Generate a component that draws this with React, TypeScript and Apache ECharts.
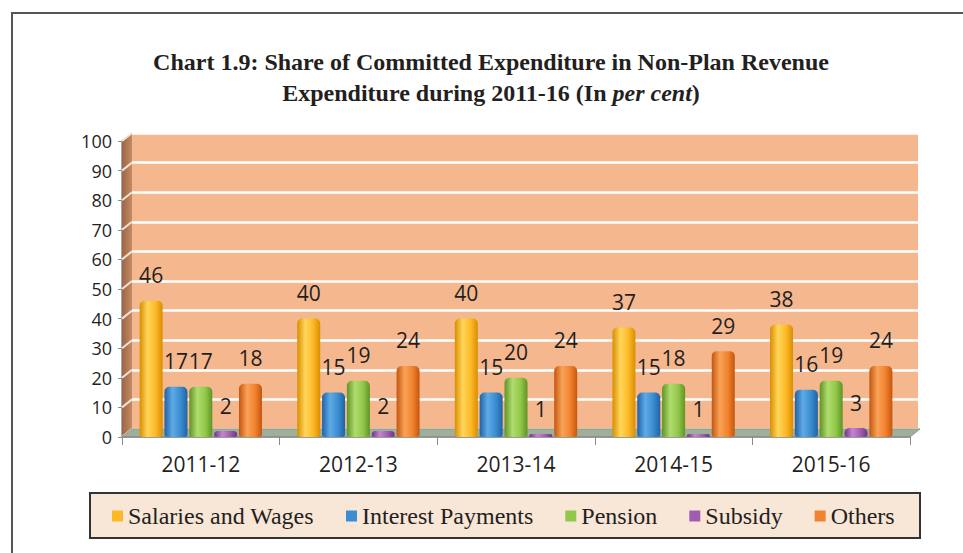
import React, { useEffect, useRef } from "react";
import * as echarts from "echarts";

const categories = ["2011-12", "2012-13", "2013-14", "2014-15", "2015-16"];
const seriesNames = ["Salaries and Wages", "Interest Payments", "Pension", "Subsidy", "Others"];
const salaries = [46, 40, 40, 37, 38];
const interest = [17, 15, 15, 15, 16];
const pension = [17, 19, 20, 18, 19];
const subsidy = [2, 2, 1, 1, 3];
const others = [18, 24, 24, 29, 24];
const yTicks = [0, 10, 20, 30, 40, 50, 60, 70, 80, 90, 100];

const palette = [
  { solid: "#FDB827", dark: "#D98E00", light: "#FFD65A" },
  { solid: "#3A8DD0", dark: "#1F63A6", light: "#5FAAE6" },
  { solid: "#92C84A", dark: "#5F9424", light: "#B0DC6E" },
  { solid: "#A05CB0", dark: "#6E3480", light: "#C486D2" },
  { solid: "#F2822E", dark: "#C4560E", light: "#F9A258" },
];

const W = 963;
const H = 553;
const G = { left: 122, right: 53, top: 141, bottom: 116 };
const D = { dx: 10, dy: -8 };

export default function App() {
  const ref = useRef<HTMLDivElement>(null);
  useEffect(() => {
    if (!ref.current) return;
    const chart = echarts.init(ref.current, null, { renderer: "svg" });
    const allData = [salaries, interest, pension, subsidy, others];
    const grad = (c: any) =>
      new echarts.graphic.LinearGradient(0, 0, 1, 0, [
        { offset: 0, color: c.dark },
        { offset: 0.35, color: c.light },
        { offset: 0.7, color: c.solid },
        { offset: 1, color: c.dark },
      ]);
    const series: any[] = allData.map((d, i) => ({
      name: seriesNames[i],
      type: "bar",
      xAxisIndex: 0,
      yAxisIndex: 0,
      data: d,
      barWidth: 23,
      barGap: "8%",
      z: 5,
      itemStyle: { color: grad(palette[i]), borderRadius: [5, 5, 3, 3] },
      label: {
        show: true,
        position: "top",
        distance: 15,
        fontSize: 21,
        fontFamily: "Open Sans",
        color: "#1f1f1f",
      },
    }));
    const serif = "'Liberation Serif', 'Times New Roman', serif";
    const option: any = {
      animation: false,
      backgroundColor: "#ffffff",
      grid: [
        { left: G.left, right: G.right, top: G.top, bottom: G.bottom, containLabel: false },
        {
          left: G.left + D.dx,
          right: G.right - D.dx + 2,
          top: G.top + D.dy,
          bottom: G.bottom - D.dy,
          show: true,
          backgroundColor: "#F5B78D",
          borderWidth: 0,
          z: 0,
        },
      ],
      xAxis: [
        {
          type: "category",
          gridIndex: 0,
          data: categories,
          axisLine: { show: true, lineStyle: { color: "#8a8a8a", width: 1.5 } },
          axisTick: { show: true, length: 8, lineStyle: { color: "#8a8a8a" } },
          axisLabel: { fontSize: 21, fontFamily: "Open Sans", color: "#1f1f1f", margin: 16 },
          z: 3,
        },
        { type: "category", gridIndex: 1, data: categories, show: false },
      ],
      yAxis: [
        {
          type: "value",
          gridIndex: 0,
          min: 0,
          max: 100,
          interval: 10,
          axisLine: { show: true, lineStyle: { color: "#8a8a8a", width: 1.5 } },
          axisTick: { show: true, length: 4, lineStyle: { color: "#8a8a8a" } },
          axisLabel: { fontSize: 18, fontFamily: "Open Sans", color: "#1f1f1f", margin: 10 },
          splitLine: { show: false },
        },
        {
          type: "value",
          gridIndex: 1,
          min: 0,
          max: 100,
          interval: 10,
          axisLine: { show: false },
          axisTick: { show: false },
          axisLabel: { show: false },
          splitLine: { show: true, lineStyle: { color: "#ffffff", width: 2.5 } },
        },
      ],
      legend: {
        data: seriesNames.map((n, i) => ({ name: n, itemStyle: { color: palette[i].solid } })),
        left: 107,
        top: 499,
        icon: "rect",
        itemWidth: 11,
        itemHeight: 11,
        itemGap: 32,
        textStyle: { fontFamily: serif, fontSize: 24, color: "#231F20" },
        z: 10,
      },
      series,
    };
    chart.setOption(option);

    const yf = (v: number) => chart.convertToPixel({ yAxisIndex: 0 }, v) as number;
    const yb = (v: number) => chart.convertToPixel({ yAxisIndex: 1 }, v) as number;
    const xL = G.left;
    const xR = W - G.right;
    const bxL = G.left + D.dx;
    const bxR = W - G.right + D.dx;
    const graphics: any[] = [];
    graphics.push({
      type: "rect",
      z: -10,
      shape: { x: 12, y: 13, width: 1000, height: 700 },
      style: { fill: "#ffffff", stroke: "#555555", lineWidth: 2 },
      silent: true,
    });
    graphics.push({
      type: "polygon",
      z: 1,
      shape: { points: [[xL, yf(100)], [bxL, yb(100)], [bxL, yb(0)], [xL, yf(0)]] },
      style: {
        fill: new echarts.graphic.LinearGradient(0, 0, 1, 0, [
          { offset: 0, color: "#9C6746" },
          { offset: 1, color: "#C38A64" },
        ]),
      },
      silent: true,
    });
    yTicks.forEach((v) => {
      graphics.push({
        type: "line",
        z: 2,
        shape: { x1: xL, y1: yf(v), x2: bxL, y2: yb(v) },
        style: { stroke: "#f3e2d4", lineWidth: 2 },
        silent: true,
      });
    });
    graphics.push({
      type: "polygon",
      z: 2,
      shape: { points: [[xL, yf(0)], [bxL, yb(0)], [bxR, yb(0)], [xR, yf(0)]] },
      style: { fill: "#9FAF99", stroke: "#8d9c88", lineWidth: 1 },
      silent: true,
    });
    graphics.push({
      type: "text",
      z: 10,
      x: 491,
      y: 46,
      style: {
        text: "Chart 1.9: Share of Committed Expenditure in Non-Plan Revenue\nExpenditure during 2011-16 (In {i|per cent})",
        align: "center",
        fontFamily: serif,
        fontWeight: "bold",
        fontSize: 24,
        lineHeight: 31,
        fill: "#231F20",
        rich: {
          i: { fontFamily: serif, fontWeight: "bold", fontStyle: "italic", fontSize: 24, fill: "#231F20" },
        },
      },
    });
    graphics.push({
      type: "rect",
      z: -1,
      shape: { x: 90, y: 493, width: 830, height: 45 },
      style: { fill: "#F8E6D7", stroke: "#333333", lineWidth: 2 },
      silent: true,
    });
    chart.setOption({ graphic: graphics });

    return () => chart.dispose();
  }, []);
  return (
    <div
      ref={ref}
      style={{ position: "fixed", left: 0, top: 0, width: W, height: H }}
    />
  );
}
